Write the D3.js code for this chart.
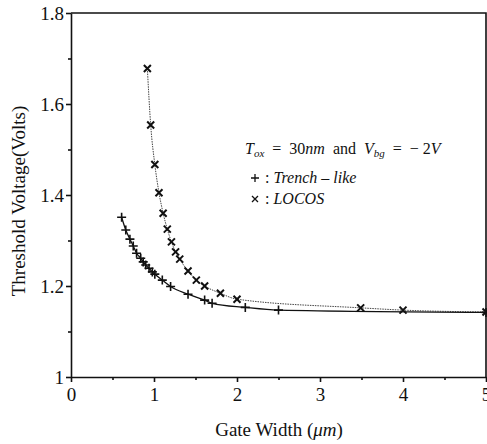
<!DOCTYPE html>
<html>
<head>
    <title>Threshold Voltage vs Gate Width</title>
    <script src="https://d3js.org/d3.v7.min.js"></script>
    <style>
        body {
            margin: 0;
            background: #fff;
        }
        svg text {
            font-family: "Liberation Serif", "Times New Roman", serif;
            fill: #111;
            white-space: pre;
        }
        .domain {
            stroke: #111;
        }
    </style>
</head>
<body>
    <svg id="chart" width="487" height="444"></svg>

    <script>
        // Data
        const trenchWidth = [0.61, 0.66, 0.71, 0.75, 0.79, 0.84, 0.87, 0.9, 0.94, 0.98, 1.01, 1.1, 1.2, 1.41, 1.61, 1.7, 2.1, 2.5, 5.0];
        const trenchVt    = [1.351, 1.323, 1.303, 1.288, 1.272, 1.261, 1.253, 1.246, 1.239, 1.231, 1.226, 1.213, 1.199, 1.182, 1.169, 1.162, 1.153, 1.147, 1.142];

        const locosWidth = [0.92, 0.96, 1.01, 1.06, 1.11, 1.16, 1.21, 1.26, 1.31, 1.41, 1.51, 1.61, 1.8, 2.0, 3.49, 4.0, 5.0];
        const locosVt    = [1.678, 1.554, 1.467, 1.405, 1.36, 1.325, 1.297, 1.275, 1.259, 1.233, 1.213, 1.2, 1.184, 1.171, 1.152, 1.147, 1.143];

        const xTicks = [0, 1, 2, 3, 4, 5];
        const xMinorTicks = [0.5, 1.5, 2.5, 3.5, 4.5];
        const yTicks = [1, 1.2, 1.4, 1.6, 1.8];
        const yMinorTicks = [1.1, 1.3, 1.5, 1.7];

        const svg = d3.select('#chart');

        const x = d3.scaleLinear().domain([0, 5]).range([71, 486]);
        const y = d3.scaleLinear().domain([1, 1.8]).range([377, 13]);

        // frame (top and right sides)
        svg.append('path')
            .attr('d', `M ${x(0)} ${y(1.8)} H ${x(5)} V ${y(1)}`)
            .attr('fill', 'none')
            .attr('stroke', '#111')
            .attr('stroke-width', 1.6);

        // x axis
        svg.append('g')
            .attr('transform', `translate(0,${y(1)})`)
            .call(d3.axisBottom(x).tickValues(xTicks).tickSize(5).tickSizeOuter(0).tickPadding(6)
                .tickFormat(d3.format('d')));
        svg.append('g')
            .attr('transform', `translate(0,${y(1)})`)
            .call(d3.axisBottom(x).tickValues(xMinorTicks).tickSize(3).tickSizeOuter(0).tickFormat(''))
            .select('.domain').remove();

        // y axis
        svg.append('g')
            .attr('transform', `translate(${x(0)},0)`)
            .call(d3.axisLeft(y).tickValues(yTicks).tickSize(5).tickSizeOuter(0).tickPadding(2)
                .tickFormat(d => String(d)));
        svg.append('g')
            .attr('transform', `translate(${x(0)},0)`)
            .call(d3.axisLeft(y).tickValues(yMinorTicks).tickSize(3).tickSizeOuter(0).tickFormat(''))
            .select('.domain').remove();

        svg.selectAll('.tick line').attr('stroke', '#111').attr('stroke-width', 1.6);
        svg.selectAll('.domain').attr('stroke-width', 1.6);
        svg.selectAll('.tick text')
            .attr('font-size', 19)
            .style('font-family', '"Liberation Serif", serif')
            .attr('fill', '#111');

        // axis titles
        const xTitle = svg.append('text')
            .attr('x', 279)
            .attr('y', 436)
            .attr('text-anchor', 'middle')
            .attr('font-size', 19);
        xTitle.append('tspan').text('Gate Width ');
        xTitle.append('tspan').text('(');
        xTitle.append('tspan').attr('font-style', 'italic').text('\u03bcm');
        xTitle.append('tspan').text(')');

        svg.append('text')
            .attr('transform', `translate(25,201) rotate(-90)`)
            .attr('text-anchor', 'middle')
            .attr('font-size', 19)
            .text('Threshold Voltage(Volts)');

        // curves
        const trench = trenchWidth.map((w, i) => [w, trenchVt[i]]);
        const locos = locosWidth.map((w, i) => [w, locosVt[i]]);

        const line = d3.line()
            .x(d => x(d[0]))
            .y(d => y(d[1]))
            .curve(d3.curveMonotoneX);

        svg.append('path')
            .attr('d', line(locos))
            .attr('fill', 'none')
            .attr('stroke', '#444')
            .attr('stroke-width', 1)
            .attr('stroke-dasharray', '1.5,1');

        svg.append('path')
            .attr('d', line(trench))
            .attr('fill', 'none')
            .attr('stroke', '#111')
            .attr('stroke-width', 1.3);

        // markers
        const plus = (px, py, s) => `M ${px - s} ${py} H ${px + s} M ${px} ${py - s} V ${py + s}`;
        const cross = (px, py, s) => `M ${px - s} ${py - s} L ${px + s} ${py + s} M ${px - s} ${py + s} L ${px + s} ${py - s}`;

        svg.append('g').selectAll('path')
            .data(trench)
            .join('path')
            .attr('d', d => plus(x(d[0]), y(d[1]), 4.5))
            .attr('stroke', '#111')
            .attr('stroke-width', 1.6);

        svg.append('g').selectAll('path')
            .data(locos)
            .join('path')
            .attr('d', d => cross(x(d[0]), y(d[1]), 3.5))
            .attr('stroke', '#111')
            .attr('stroke-width', 2);

        // legend
        const leg1 = svg.append('text')
            .attr('x', 245)
            .attr('y', 154)
            .attr('font-size', 16);
        leg1.append('tspan').attr('font-style', 'italic').text('T');
        leg1.append('tspan').attr('font-style', 'italic').attr('font-size', 11).attr('dy', 3).text('ox');
        leg1.append('tspan').attr('dy', -3).text('  =  30');
        leg1.append('tspan').attr('font-style', 'italic').text('nm');
        leg1.append('tspan').text('  and  ');
        leg1.append('tspan').attr('font-style', 'italic').text('V');
        leg1.append('tspan').attr('font-style', 'italic').attr('font-size', 11).attr('dy', 3).text('bg');
        leg1.append('tspan').attr('dy', -3).text('  =  \u2212 2');
        leg1.append('tspan').attr('font-style', 'italic').text('V');

        svg.append('path')
            .attr('d', plus(255, 178, 4))
            .attr('stroke', '#111')
            .attr('stroke-width', 1.3);
        svg.append('path')
            .attr('d', cross(255, 199, 3))
            .attr('stroke', '#111')
            .attr('stroke-width', 1.3);

        const leg2 = svg.append('text').attr('x', 265).attr('y', 183).attr('font-size', 16);
        leg2.append('tspan').text(': ');
        leg2.append('tspan').attr('font-style', 'italic').text('Trench \u2013 like');

        const leg3 = svg.append('text').attr('x', 265).attr('y', 204).attr('font-size', 16);
        leg3.append('tspan').text(': ');
        leg3.append('tspan').attr('font-style', 'italic').text('LOCOS');
    </script>
</body>
</html>
